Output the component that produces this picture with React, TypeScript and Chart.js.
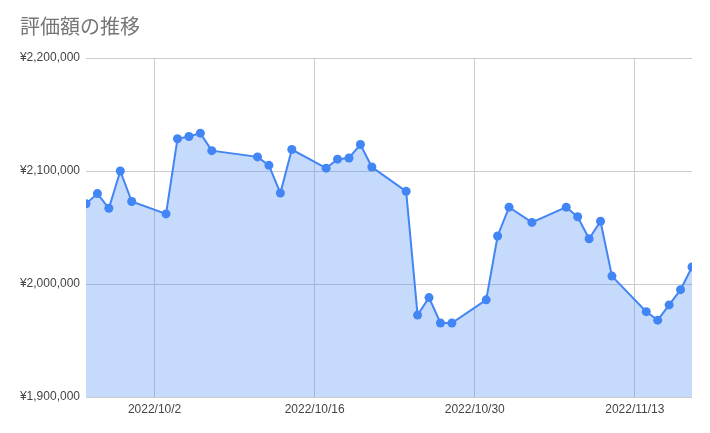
import React, { useEffect, useRef } from "react";
import { Chart, registerables } from "chart.js";

Chart.register(...registerables);

const chartTitle = "評価額の推移";

const dates = [
  "2022-09-26", "2022-09-27", "2022-09-28", "2022-09-29", "2022-09-30",
  "2022-10-03", "2022-10-04", "2022-10-05", "2022-10-06", "2022-10-07",
  "2022-10-11", "2022-10-12", "2022-10-13", "2022-10-14",
  "2022-10-17", "2022-10-18", "2022-10-19", "2022-10-20", "2022-10-21",
  "2022-10-24", "2022-10-25", "2022-10-26", "2022-10-27", "2022-10-28",
  "2022-10-31", "2022-11-01", "2022-11-02", "2022-11-04",
  "2022-11-07", "2022-11-08", "2022-11-09", "2022-11-10", "2022-11-11",
  "2022-11-14", "2022-11-15", "2022-11-16", "2022-11-17", "2022-11-18",
];

const values = [
  2071000, 2080000, 2067000, 2100000, 2073000,
  2062000, 2128500, 2130500, 2133500, 2118000,
  2112500, 2105000, 2080500, 2119000,
  2102500, 2110500, 2111500, 2123500, 2103500,
  2082000, 1972500, 1988000, 1965500, 1965500,
  1986000, 2042500, 2068000, 2054500,
  2068000, 2059500, 2040000, 2055500, 2007000,
  1975500, 1968000, 1981500, 1995000, 2015000,
];

const xMinDate = "2022-09-26";
const xMaxDate = "2022-11-18";
const xTickDates = ["2022-10-02", "2022-10-16", "2022-10-30", "2022-11-13"];
const yTicks = [1900000, 2000000, 2100000, 2200000];

const toUTC = (s: string) => {
  const [y, m, d] = s.split("-").map(Number);
  return Date.UTC(y, m - 1, d);
};
const baseMs = toUTC(xMinDate);
const dayOf = (s: string) => (toUTC(s) - baseMs) / 86400000;
const fmtDay = (v: number) => {
  const dt = new Date(baseMs + v * 86400000);
  return `${dt.getUTCFullYear()}/${dt.getUTCMonth() + 1}/${dt.getUTCDate()}`;
};

export default function App() {
  const ref = useRef<HTMLCanvasElement | null>(null);

  useEffect(() => {
    document.body.style.margin = "0";
    if (!ref.current) return;
    const chart = new Chart(ref.current, {
      type: "line",
      data: {
        datasets: [
          {
            data: dates.map((d, i) => ({ x: dayOf(d), y: values[i] })),
            borderColor: "#4285F4",
            backgroundColor: "rgba(66,133,244,0.3)",
            borderWidth: 2,
            fill: "start",
            pointRadius: 4.5,
            pointBorderWidth: 0,
            pointBackgroundColor: "#4285F4",
            tension: 0,
            clip: 0,
          } as any,
        ],
      },
      options: {
        animation: false,
        responsive: true,
        maintainAspectRatio: false,
        layout: { padding: { left: 20, right: 18, top: 0, bottom: 0 } },
        plugins: {
          legend: { display: false },
          tooltip: { enabled: false },
          title: {
            display: true,
            text: chartTitle,
            align: "start",
            color: "#757575",
            font: { size: 20, family: "'Noto Sans CJK JP', sans-serif", weight: "normal" },
            padding: { top: 14, bottom: 20 },
          },
        },
        scales: {
          x: {
            type: "linear",
            min: dayOf(xMinDate),
            max: dayOf(xMaxDate),
            afterBuildTicks: (scale: any) => {
              scale.ticks = xTickDates.map((d) => ({ value: dayOf(d) }));
            },
            afterFit: (scale: any) => {
              scale.height = 36;
            },
            ticks: {
              callback: (v: any) => fmtDay(Number(v)),
              color: "#444444",
              font: { size: 12, family: "'Liberation Sans', Arial, sans-serif" },
              padding: 5,
              maxRotation: 0,
              autoSkip: false,
            },
            grid: { color: "#cccccc", drawTicks: false },
            border: { display: false },
          },
          y: {
            min: 1900000,
            max: 2200000,
            afterBuildTicks: (scale: any) => {
              scale.ticks = yTicks.map((v) => ({ value: v }));
            },
            afterFit: (scale: any) => {
              scale.width = 66;
            },
            ticks: {
              callback: (v: any) => "¥" + Number(v).toLocaleString("en-US"),
              color: "#444444",
              font: { size: 12, family: "'Liberation Sans', Arial, sans-serif" },
              padding: 6,
            },
            grid: { color: "#cccccc", drawTicks: false },
            border: { display: false },
          },
        },
      } as any,
    });
    return () => chart.destroy();
  }, []);

  return (
    <div style={{ position: "fixed", left: 0, top: 0, width: 710, height: 433 }}>
      <canvas ref={ref} />
    </div>
  );
}
